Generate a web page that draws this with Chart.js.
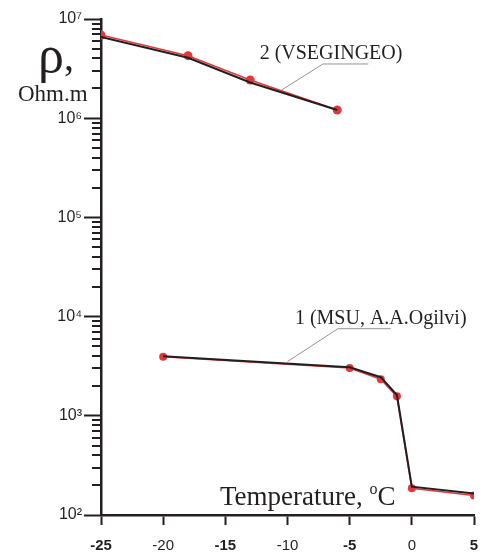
<!DOCTYPE html>
<html>
<head>
<meta charset="utf-8">
<script src="https://cdn.jsdelivr.net/npm/chart.js@4"></script>
<style>
body{margin:0;background:#fff}
#wrap{width:485px;height:558px}
</style>
</head>
<body>
<div id="wrap"><canvas id="chart" width="485" height="558"></canvas></div>
<script>
// series 1 (MSU, A.A.Ogilvi)
const temp1=[-20,-5,-2.5,-1.2,0,5]
const rho1Points=[3940,3030,2340,1570,186,157]
const rho1Line=[3990,3090,2450,1620,193,165]

// series 2 (VSEGINGEO)
const temp2=[-25,-18,-13,-6]
const rho2Points=[6900000,4270000,2430000,1210000]
const rho2Line=[6590000,4070000,2290000,1210000]

// axes
const xTicks=[-25,-20,-15,-10,-5,0,5]
const yDecades=[100,1000,10000,100000,1000000,10000000]

// labels, anchored in data units [x, y]
const label1={text:"1 (MSU, A.A.Ogilvi)",at:[-2.5,8400],leader:[[-1.7,7550],[-5.95,7550],[-10.0,3520]]}
const label2={text:"2 (VSEGINGEO)",at:[-6.5,3950000],leader:[[-3.5,3520000],[-7.15,3520000],[-10.45,1930000]]}

const DARK="#231f20"
const RED="#e0393b"
const SANS="'Liberation Sans', Arial, 'DejaVu Sans', sans-serif"
const SERIF="'Liberation Serif', 'Times New Roman', 'DejaVu Serif', serif"
const SUP={"2":"\u00b2","3":"\u00b3","4":"\u2074","5":"\u2075","6":"\u2076","7":"\u2077"}

function pts(xs,ys){
return xs.map((x,i)=>({x:x,y:ys[i]}))
}

function isDecade(v){
return yDecades.indexOf(v)>=0
}

/* y tick values: 1..9 per decade */
const yTickValues=[]
yDecades.forEach((d,i)=>{
if(i===yDecades.length-1){yTickValues.push(d);return}
for(let m=1;m<10;m++) yTickValues.push(d*m)
})


/* ANNOTATIONS */

const extras={
id:"extras",
afterDraw(chart){
const c=chart.ctx
const xs=chart.scales.x
const ys=chart.scales.y

// minor ticks on y axis
c.save()
c.strokeStyle=DARK
c.lineWidth=2
const left=chart.chartArea.left
yTickValues.forEach(v=>{
if(isDecade(v)) return
const py=Math.round(ys.getPixelForValue(v))
c.beginPath()
c.moveTo(left-9,py)
c.lineTo(left,py)
c.stroke()
})
c.restore()

// leader lines and labels
;[label1,label2].forEach(l=>{
c.save()
c.strokeStyle="#777"
c.lineWidth=0.8
c.beginPath()
l.leader.forEach((p,i)=>{
const px=xs.getPixelForValue(p[0])
const py=ys.getPixelForValue(p[1])
if(i===0) c.moveTo(px,py)
else c.lineTo(px,py)
})
c.stroke()
c.fillStyle=DARK
c.font="20px "+SERIF
c.textAlign="center"
c.textBaseline="alphabetic"
c.fillText(l.text,xs.getPixelForValue(l.at[0]),ys.getPixelForValue(l.at[1]))
c.restore()
})

// axis titles
c.save()
c.fillStyle=DARK
c.textBaseline="alphabetic"
c.textAlign="left"
c.font="52px "+SERIF
c.fillText("\u03c1",38,72)
c.font="40px "+SERIF
c.fillText(",",64,70)
c.font="23px "+SERIF
c.fillText("Ohm.m",18,101)

c.font="27px "+SERIF
const t1="Temperature, "
let tx=220
const ty=505
c.fillText(t1,tx,ty)
tx+=c.measureText(t1).width
c.font="16px "+SERIF
c.fillText("o",tx,ty-11)
tx+=c.measureText("o").width
c.font="27px "+SERIF
c.fillText("C",tx,ty)
c.restore()
}
}


/* CHART */

const ctx=document.getElementById("chart").getContext("2d")

new Chart(ctx,{
type:"line",
data:{
datasets:[
{data:pts(temp1,rho1Line),borderColor:DARK,borderWidth:2,pointRadius:0,tension:0,order:0},
{data:pts(temp2,rho2Line),borderColor:DARK,borderWidth:2,pointRadius:0,tension:0,order:0},
{data:pts(temp1,rho1Points),borderColor:RED,borderWidth:1.6,pointRadius:4,pointBackgroundColor:RED,pointBorderWidth:0,tension:0,order:1},
{data:pts(temp2,rho2Points),borderColor:RED,borderWidth:1.6,pointRadius:4.5,pointBackgroundColor:RED,pointBorderWidth:0,tension:0,order:1}
]
},
options:{
responsive:false,
animation:false,
devicePixelRatio:1,
layout:{padding:{left:0,right:11,top:19,bottom:0}},
plugins:{legend:{display:false},tooltip:{enabled:false}},
scales:{
x:{
type:"linear",
min:-25,
max:5,
afterBuildTicks:s=>{s.ticks=xTicks.map(v=>({value:v}))},
afterFit:s=>{s.height=43;s.paddingRight=0;s.paddingLeft=0},
grid:{drawOnChartArea:false,tickLength:10,tickWidth:2,tickColor:DARK},
border:{display:true,width:2.5,color:DARK},
ticks:{
padding:12,
color:DARK,
maxRotation:0,
autoSkip:false,
font:c=>({family:SANS,size:15,weight:(c.tick&&Math.abs(c.tick.value)%10===5)?"bold":"normal"})
}
},
y:{
type:"logarithmic",
min:100,
max:10000000,
afterBuildTicks:s=>{s.ticks=yTickValues.map(v=>({value:v}))},
afterFit:s=>{s.width=101},
grid:{drawOnChartArea:false,tickLength:17,tickWidth:2,tickColor:c=>(c.tick&&isDecade(c.tick.value))?DARK:"rgba(0,0,0,0)"},
border:{display:true,width:2.5,color:DARK},
ticks:{
padding:2,
color:DARK,
autoSkip:false,
font:{family:SANS,size:16},
callback:v=>{
if(!isDecade(v)) return ""
const e=Math.round(Math.log10(v))
return "10"+SUP[e]
}
}
}
}
},
plugins:[extras]
})
</script>
</body>
</html>
